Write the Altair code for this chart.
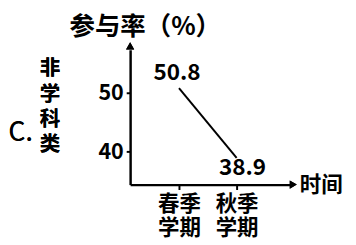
import altair as alt
import pandas as pd

# ---- data ----
terms = ["春季学期", "秋季学期"]
term_lines = [["春季", "学期"], ["秋季", "学期"]]
term_pos = [1, 2]
rates = [50.8, 38.9]
y_ticks = [40, 50]
y_title = "参与率（%）"
x_title = "时间"
option_label = "C."
category_label = "非学科类"

df = pd.DataFrame({
    "term": terms,
    "pos": term_pos,
    "rate": rates,
    "label": [f"{r:.1f}" for r in rates],
})

W, H = 164, 138
FONT = "Noto Sans CJK SC"
WT = "bold"

label_expr = " : ".join(
    f"datum.value == {p} ? {str(lines)}" for p, lines in zip(term_pos, term_lines)
) + " : ''"

x_enc = alt.X(
    "pos:Q",
    scale=alt.Scale(domain=[0.1525, 2.932], nice=False, zero=False),
    axis=alt.Axis(
        values=term_pos, labelExpr=label_expr, grid=False,
        domainColor="black", domainWidth=2.5, tickColor="black", tickWidth=2, tickSize=5,
        labelFont=FONT, labelFontSize=22, labelFontWeight=WT, labelColor="black", labelLineHeight=25,
        labelPadding=4, labelBaseline="top", labelAlign="center",
        title=x_title, titleFont=FONT, titleFontSize=22, titleFontWeight=WT,
        titleColor="black", titleAngle=0, titleX=W + 31, titleY=0,
        titleAlign="center", titleBaseline="middle",
    ),
)
y_enc = alt.Y(
    "rate:Q",
    scale=alt.Scale(domain=[34.33, 57.33], nice=False, zero=False),
    axis=alt.Axis(
        values=y_ticks, grid=False,
        domainColor="black", domainWidth=2.5, tickColor="black", tickWidth=2, tickSize=4,
        labelFont=FONT, labelFontSize=22, labelFontWeight=WT, labelColor="black", labelPadding=3,
        title=y_title, titleFont=FONT, titleFontSize=26, titleFontWeight=WT,
        titleColor="black", titleAngle=0, titleX=15, titleY=-24,
        titleAlign="center", titleBaseline="middle",
    ),
)

base = alt.Chart(df)
line = base.mark_line(color="black", strokeWidth=2).encode(x=x_enc, y=y_enc)

lab1 = base.transform_filter(alt.datum.pos == term_pos[0]).mark_text(
    font=FONT, fontSize=23, fontWeight=WT, color="black", dx=-2, dy=-15
).encode(x="pos:Q", y="rate:Q", text="label:N")
lab2 = base.transform_filter(alt.datum.pos == term_pos[1]).mark_text(
    font=FONT, fontSize=23, fontWeight=WT, color="black", dx=6, dy=11
).encode(x="pos:Q", y="rate:Q", text="label:N")

arrow_up = base.mark_point(shape="triangle-up", filled=True, size=70, color="black", opacity=1).encode(
    x=alt.value(0), y=alt.value(-4))
arrow_right = base.mark_point(shape="triangle-right", filled=True, size=70, color="black", opacity=1).encode(
    x=alt.value(W + 3), y=alt.value(H))

opt = base.mark_text(font=FONT, fontSize=27, color="black", align="center", baseline="middle").encode(
    x=alt.value(-112), y=alt.value(85), text=alt.value(option_label))
cat = base.mark_text(font=FONT, fontSize=21, fontWeight=WT, color="black", align="center", baseline="middle",
                     lineBreak="\n", lineHeight=26).encode(
    x=alt.value(-82), y=alt.value(20), text=alt.value("\n".join(category_label)))

chart = alt.layer(line, lab1, lab2, arrow_up, arrow_right, opt, cat).properties(
    width=W, height=H,
    autosize=alt.AutoSizeParams(type="none"),
    padding={"left": 125, "top": 40, "right": 59, "bottom": 57},
    background="white",
).configure_view(stroke=None)

chart.save("out.html", embed_options={"renderer": "svg", "actions": False})
